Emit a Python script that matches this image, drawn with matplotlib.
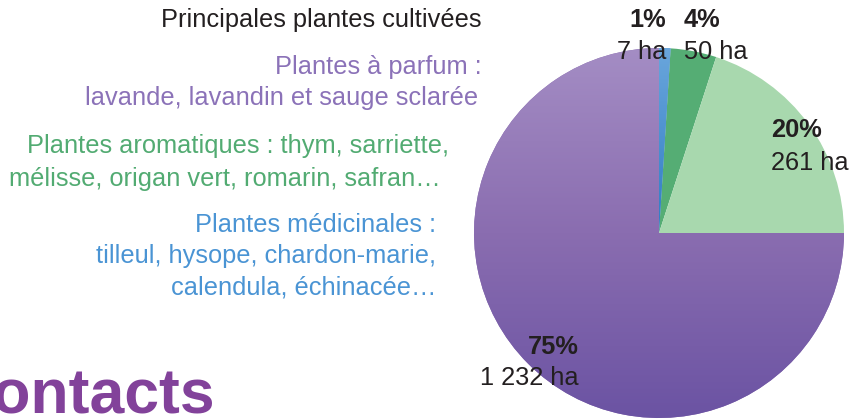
import numpy as np
import matplotlib
matplotlib.use("Agg")
import matplotlib.pyplot as plt
from matplotlib.colors import LinearSegmentedColormap

plt.rcParams['font.family'] = ['Liberation Sans', 'DejaVu Sans']

# données (les parts du camembert suivent les pourcentages affichés)
categories = ["Plantes médicinales", "Plantes aromatiques (thym...)", "Plantes aromatiques", "Plantes à parfum"]
parts = [1, 4, 20, 75]
pourcents = ["1%", "4%", "20%", "75%"]
hectares = ["7 ha", "50 ha", "261 ha", "1 232 ha"]
couleurs = ["#4a8fd2", "#55ad74", "#a8d8ae", "#8a6db0"]

W, H = 850, 419
fig = plt.figure(figsize=(W / 100, H / 100), dpi=100)
ax = fig.add_axes([0, 0, 1, 1])

def Y(y):  # pixel depuis le haut -> données
    return H - y

cx, cy, r = 659, Y(233), 185
wedges, _ = ax.pie(parts, colors=couleurs, startangle=90, counterclock=False,
                   center=(cx, cy), radius=r, frame=True)

# dégradés
grad = np.linspace(0, 1, 256).reshape(-1, 1)
cm_violet = LinearSegmentedColormap.from_list("v", ["#6b53a3", "#8a6db0", "#a48dc4"])
im = ax.imshow(grad, extent=[cx - r, cx + r, cy - r, cy + r], cmap=cm_violet,
               origin="lower", aspect="auto", zorder=2)
im.set_clip_path(wedges[3])
cm_bleu = LinearSegmentedColormap.from_list("b", ["#2f7cc4", "#6aa6dc"])
im2 = ax.imshow(grad, extent=[cx - r, cx + r, cy, cy + r], cmap=cm_bleu,
                origin="lower", aspect="auto", zorder=2)
im2.set_clip_path(wedges[0])
ax.set_xlim(0, W)
ax.set_ylim(0, H)
ax.set_aspect("equal")
ax.axis("off")

fs = 18.3
txt = "#231f20"
# étiquettes du camembert
ax.text(666, Y(20), pourcents[0], ha="right", va="center", fontsize=fs, weight="bold", color=txt, zorder=5)
ax.text(666, Y(52), hectares[0], ha="right", va="center", fontsize=fs, color=txt, zorder=5)
ax.text(684, Y(20), pourcents[1], ha="left", va="center", fontsize=fs, weight="bold", color=txt, zorder=5)
ax.text(684, Y(52), hectares[1], ha="left", va="center", fontsize=fs, color=txt, zorder=5)
ax.text(771, Y(130), pourcents[2], ha="left", va="center", fontsize=fs, weight="bold", color=txt, zorder=5)
ax.text(771, Y(163), hectares[2], ha="left", va="center", fontsize=fs, color=txt, zorder=5)
ax.text(579, Y(347), pourcents[3], ha="right", va="center", fontsize=fs, weight="bold", color=txt, zorder=5)
ax.text(579, Y(378), hectares[3], ha="right", va="center", fontsize=fs, color=txt, zorder=5)

# légende texte
ax.text(482, Y(20), "Principales plantes cultivées", ha="right", va="center", fontsize=fs, color=txt)
violet = "#8b72b8"
ax.text(482, Y(67), "Plantes à parfum :", ha="right", va="center", fontsize=fs, color=violet)
ax.text(478, Y(98), "lavande, lavandin et sauge sclarée", ha="right", va="center", fontsize=fs, color=violet)
vert = "#52ab72"
ax.text(449, Y(146), "Plantes aromatiques : thym, sarriette,", ha="right", va="center", fontsize=fs, color=vert)
ax.text(441, Y(179), "mélisse, origan vert, romarin, safran…", ha="right", va="center", fontsize=fs, color=vert)
bleu = "#4a94d4"
ax.text(436, Y(225), "Plantes médicinales :", ha="right", va="center", fontsize=fs, color=bleu)
ax.text(436, Y(256), "tilleul, hysope, chardon-marie,", ha="right", va="center", fontsize=fs, color=bleu)
ax.text(436, Y(288), "calendula, échinacée…", ha="right", va="center", fontsize=fs, color=bleu)

ax.text(215, Y(413), "Contacts", ha="right", va="baseline", fontsize=45, weight="bold", color="#82429a")

fig.savefig("out.png", dpi=100)
